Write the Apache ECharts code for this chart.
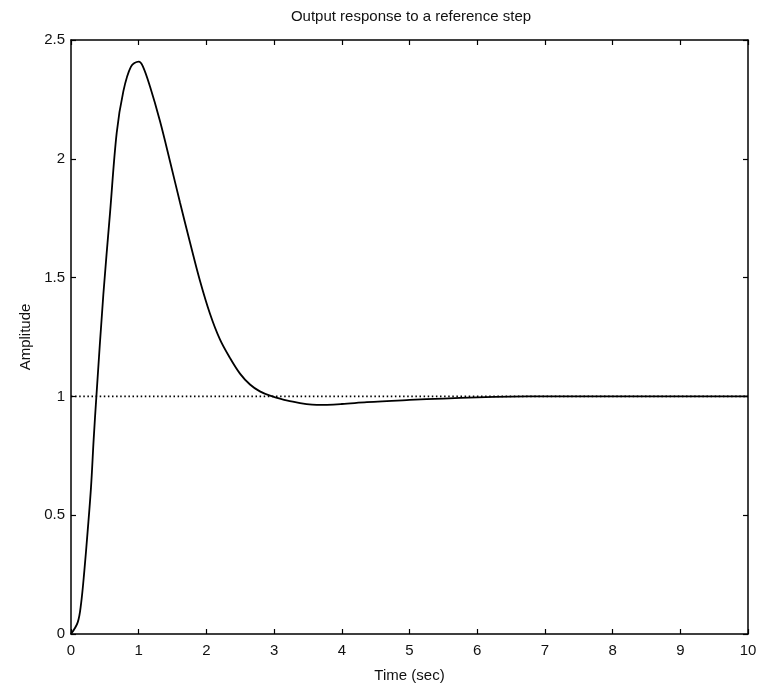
<!DOCTYPE html>
<html>
<head>
<meta charset="utf-8">
<script src="https://cdn.jsdelivr.net/npm/echarts@6/dist/echarts.min.js"></script>
<style>
html,body{margin:0;padding:0;background:#fff;}
#chart{width:761px;height:688px;}
</style>
</head>
<body>
<div id="chart"></div>
<script>
// Time (sec) samples
const timeSec = [0, 0.099, 0.148, 0.197, 0.246, 0.295, 0.335, 0.375, 0.478, 0.576, 0.675, 0.773, 0.886, 1.0, 1.06, 1.167, 1.315, 1.462, 1.61, 1.758, 1.905, 2.053, 2.2, 2.348, 2.496, 2.644, 2.79, 2.94, 3.2, 3.63, 4.0, 4.37, 5.0, 5.5, 6.0, 6.5, 7.0, 8.0, 9.0, 10.0];
// Output amplitude
const amplitude = [0, 0.049, 0.126, 0.266, 0.433, 0.615, 0.82, 1.0, 1.43, 1.77, 2.109, 2.284, 2.388, 2.409, 2.39, 2.304, 2.158, 1.99, 1.816, 1.648, 1.487, 1.348, 1.24, 1.162, 1.096, 1.05, 1.021, 1.003, 0.982, 0.964, 0.968, 0.976, 0.985, 0.991, 0.996, 0.999, 1.0, 1.0, 1.0, 1.0];
// Reference step (dotted)
const refTime = [0, 10];
const refValue = [1, 1];
const xTicks = [0, 1, 2, 3, 4, 5, 6, 7, 8, 9, 10];
const yTicks = [0, 0.5, 1, 1.5, 2, 2.5];

const FONT = 'Liberation Sans';
const chart = echarts.init(document.getElementById('chart'), null, {renderer: 'canvas'});

const axisBase = {
  axisLine: {show: true, onZero: false, lineStyle: {color: '#000', width: 1.5}},
  axisTick: {show: true, inside: true, length: 5, lineStyle: {color: '#000', width: 1.2}},
  splitLine: {show: false}
};

chart.setOption({
  backgroundColor: '#fff',
  animation: false,
  title: {
    text: 'Output response to a reference step',
    left: 406, textAlign: 'center', top: 4,
    textStyle: {fontFamily: FONT, fontSize: 15, fontWeight: 'normal', color: '#111'}
  },
  grid: {left: 71, right: 13, top: 40, bottom: 51, containLabel: false},
  xAxis: [
    Object.assign({}, axisBase, {
      type: 'value', min: 0, max: 10, interval: 1, position: 'bottom',
      name: 'Time (sec)', nameLocation: 'middle', nameGap: 34,
      nameTextStyle: {fontFamily: FONT, fontSize: 15, color: '#111'},
      axisLabel: {fontFamily: FONT, fontSize: 15, color: '#111', margin: 9,
        formatter: v => xTicks.indexOf(v) >= 0 ? String(v) : ''}
    }),
    Object.assign({}, axisBase, {
      type: 'value', min: 0, max: 10, interval: 1, position: 'top',
      axisLabel: {show: false}
    })
  ],
  yAxis: [
    Object.assign({}, axisBase, {
      type: 'value', min: 0, max: 2.5, interval: 0.5, position: 'left',
      name: 'Amplitude', nameLocation: 'middle', nameGap: 36, nameRotate: 90,
      nameTextStyle: {fontFamily: FONT, fontSize: 15, color: '#111'},
      axisLabel: {fontFamily: FONT, fontSize: 15, color: '#111', margin: 6,
        formatter: v => yTicks.indexOf(v) >= 0 ? String(v) : ''}
    }),
    Object.assign({}, axisBase, {
      type: 'value', min: 0, max: 2.5, interval: 0.5, position: 'right',
      axisLabel: {show: false}
    })
  ],
  series: [
    {
      type: 'line', xAxisIndex: 0, yAxisIndex: 0,
      data: refTime.map((t, i) => [t, refValue[i]]),
      showSymbol: false, silent: true,
      lineStyle: {color: '#000', width: 1.6, type: [1.5, 2.6]}
    },
    {
      type: 'line', xAxisIndex: 0, yAxisIndex: 0,
      data: timeSec.map((t, i) => [t, amplitude[i]]),
      showSymbol: false, smooth: 0.35,
      lineStyle: {color: '#000', width: 1.8}
    }
  ]
});
</script>
</body>
</html>
